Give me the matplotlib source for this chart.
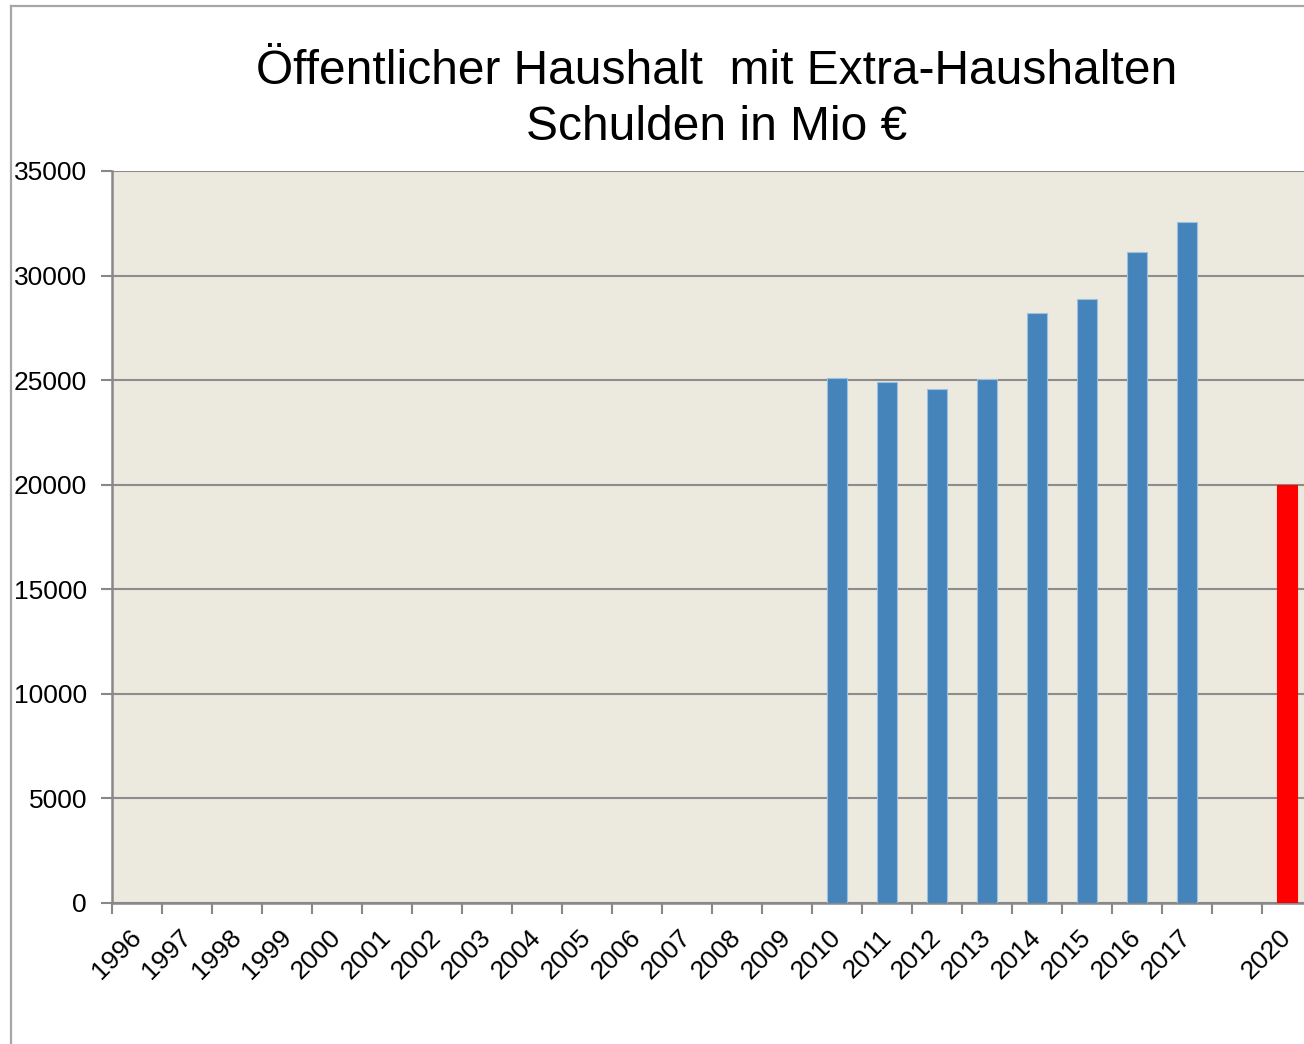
import matplotlib
matplotlib.use("Agg")
import matplotlib.pyplot as plt
from matplotlib.lines import Line2D
import matplotlib.transforms as mtransforms
import numpy as np

categories = ["1996", "1997", "1998", "1999", "2000", "2001", "2002", "2003",
              "2004", "2005", "2006", "2007", "2008", "2009", "2010", "2011",
              "2012", "2013", "2014", "2015", "2016", "2017", "", "2020"]
debt = [np.nan] * 14 + [25100, 24900, 24600, 25050, 28230, 28870, 31130, 32570, np.nan, 20000]
bar_colors = ["#4584BA"] * 23 + ["#FF0000"]
yticks = [0, 5000, 10000, 15000, 20000, 25000, 30000, 35000]
title_lines = ["Öffentlicher Haushalt  mit Extra-Haushalten", "Schulden in Mio €"]

plt.rcParams['font.family'] = ['Liberation Sans', 'DejaVu Sans']

fig = plt.figure(figsize=(13.04, 10.44), dpi=100)
W, H = 1304, 1044
left, right, bottom, top = 112 / W, 1312 / W, 1 - 903 / H, 1 - 171 / H
ax = fig.add_axes([left, bottom, right - left, top - bottom])
ax.set_facecolor("#ECE9DF")

x = np.arange(len(categories))
edge = ["#9CC0E0"] * 23 + ["#FF0000"]
ax.bar(x, debt, width=0.4, color=bar_colors, edgecolor=edge, linewidth=0.8, zorder=3)

ax.set_xlim(-0.5, len(categories) - 0.5)
ax.set_ylim(0, 35000)
ax.set_yticks(yticks)
ax.set_yticklabels([str(v) for v in yticks], fontsize=19)
ax.tick_params(axis='y', length=8, width=1.5, color="#888888", pad=10)
ax.yaxis.grid(True, color="#8C8C8C", linewidth=1.5, zorder=1)
ax.set_axisbelow(True)

ax.set_xticks(x)
ax.set_xticklabels(categories, fontsize=19, rotation=45, ha='right', va='top')
ax.tick_params(axis='x', which='major', length=0, pad=16)
ax.set_xticks(np.arange(-0.5, len(categories) - 0.5, 1.0), minor=True)
ax.tick_params(axis='x', which='minor', length=8, width=1.5, color="#888888")
offset = mtransforms.ScaledTranslation(9 / 100, 0, fig.dpi_scale_trans)
for lbl in ax.get_xticklabels():
    lbl.set_transform(lbl.get_transform() + offset)

for s in ['top', 'right']:
    ax.spines[s].set_visible(False)
for s in ['left', 'bottom']:
    ax.spines[s].set_color("#888888")
    ax.spines[s].set_linewidth(1.8)

fig.text(717 / W, 1 - 71 / H, title_lines[0], fontsize=34.5, ha='center', va='center')
fig.text(717 / W, 1 - 127 / H, title_lines[1], fontsize=34.5, ha='center', va='center')

# chart border (only left and top visible)
fig.add_artist(Line2D([11 / W, 11 / W], [-0.1, 1 - 6 / H], transform=fig.transFigure,
                      color="#A6A6A6", linewidth=1.6))
fig.add_artist(Line2D([11 / W, 1.1], [1 - 6 / H, 1 - 6 / H], transform=fig.transFigure,
                      color="#A6A6A6", linewidth=1.6))

fig.savefig("out.png", dpi=100)
